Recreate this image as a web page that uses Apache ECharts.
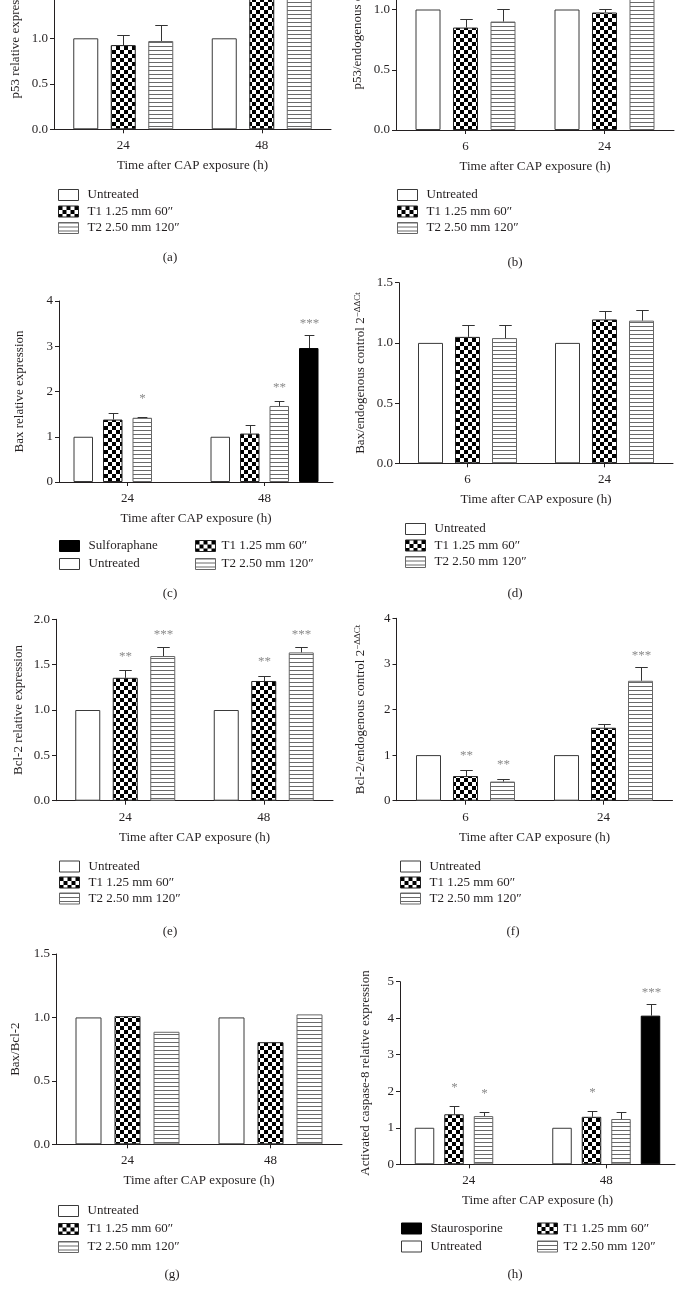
<!DOCTYPE html>
<html><head><meta charset="utf-8">
<script src="https://cdn.jsdelivr.net/npm/echarts@6/dist/echarts.min.js"></script>
<style>html,body{margin:0;padding:0;background:#fff;overflow:hidden;width:684px;height:1302px}#c{position:absolute;left:0;top:-150px;width:684px;height:1452px}</style>
</head><body><div id="c"></div>
<script>
// ---------- DATA ----------
const nameU = 'Untreated', nameT1 = 'T1 1.25 mm 60\u2033', nameT2 = 'T2 2.50 mm 120\u2033';
const nameSulfo = 'Sulforaphane', nameStauro = 'Staurosporine';
const xTitle = 'Time after CAP exposure (h)';

// (a) p53 relative expression
const catsA = ['24', '48'];
const untreatedA = [1, 1];
const t1A = [0.925, 1.55];
const t1ErrA = [0.115, 0.1];
const t2A = [0.97, 1.7];
const t2ErrA = [0.18, 0.1];

// (b) p53/endogenous control
const catsB = ['6', '24'];
const untreatedB = [1, 1];
const t1B = [0.85, 0.975];
const t1ErrB = [0.07, 0.03];
const t2B = [0.9, 1.1];
const t2ErrB = [0.105, 0.1];

// (c) Bax relative expression
const catsC = ['24', '48'];
const untreatedC = [1, 1];
const t1C = [1.38, 1.07];
const t1ErrC = [0.14, 0.19];
const t2C = [1.42, 1.68];
const t2ErrC = [0.01, 0.1];
const t2StarsC = [1, 2];
const sulfoC = [null, 2.96];
const sulfoErrC = [null, 0.28];
const sulfoStarsC = [0, 3];

// (d) Bax/endogenous control
const catsD = ['6', '24'];
const untreatedD = [1, 1];
const t1D = [1.05, 1.195];
const t1ErrD = [0.095, 0.07];
const t2D = [1.04, 1.185];
const t2ErrD = [0.11, 0.085];

// (e) Bcl-2 relative expression
const catsE = ['24', '48'];
const untreatedE = [1, 1];
const t1E = [1.355, 1.32];
const t1ErrE = [0.085, 0.06];
const t1StarsE = [2, 2];
const t2E = [1.595, 1.635];
const t2ErrE = [0.105, 0.065];
const t2StarsE = [3, 3];

// (f) Bcl-2/endogenous control
const catsF = ['6', '24'];
const untreatedF = [1, 1];
const t1F = [0.54, 1.6];
const t1ErrF = [0.14, 0.09];
const t1StarsF = [2, 0];
const t2F = [0.42, 2.63];
const t2ErrF = [0.06, 0.3];
const t2StarsF = [2, 3];

// (g) Bax/Bcl-2
const catsG = ['24', '48'];
const untreatedG = [1, 1];
const t1G = [1.01, 0.805];
const t2G = [0.887, 1.024];

// (h) Activated caspase-8
const catsH = ['24', '48'];
const untreatedH = [1, 1];
const t1H = [1.37, 1.3];
const t1ErrH = [0.23, 0.17];
const t1StarsH = [1, 1];
const t2H = [1.32, 1.24];
const t2ErrH = [0.11, 0.18];
const t2StarsH = [1, 0];
const stauroH = [null, 4.07];
const stauroErrH = [null, 0.31];
const stauroStarsH = [0, 3];

// ---------- STYLE ----------
const FONT = '"Liberation Serif", "Times New Roman", serif';
const INK = '#231f20';
const STAR_OFF = [0, 18.5, 14, 11.5];
const SHIFT = 150; // chart container starts above the page so the top panels are cropped

function makeChecker() {
  const c = document.createElement('canvas'); c.width = 8; c.height = 8;
  const g = c.getContext('2d');
  g.fillStyle = '#fff'; g.fillRect(0, 0, 8, 8);
  g.fillStyle = '#000'; g.fillRect(0, 0, 4, 4); g.fillRect(4, 4, 4, 4);
  return c;
}
function makeStripes() {
  const c = document.createElement('canvas'); c.width = 4; c.height = 4;
  const g = c.getContext('2d');
  g.fillStyle = '#fff'; g.fillRect(0, 0, 4, 4);
  g.fillStyle = '#6a6a6a'; g.fillRect(0, 0, 4, 1);
  return c;
}
const STYLES = {};
STYLES[nameU] = { color: '#ffffff', borderColor: '#3a3a3a', borderWidth: 1 };
STYLES[nameT1] = { color: { image: makeChecker(), repeat: 'repeat' }, borderColor: '#222', borderWidth: 1 };
STYLES[nameT2] = { color: { image: makeStripes(), repeat: 'repeat' }, borderColor: '#666', borderWidth: 1 };
STYLES[nameSulfo] = { color: '#000', borderColor: '#000', borderWidth: 1 };
STYLES[nameStauro] = { color: '#000', borderColor: '#000', borderWidth: 1 };

function ctrlName(prefix) {
  return '{b|' + prefix + '/endogenous control 2}{s|\u2212\u0394\u0394Ct}';
}

const panels = [
  { cats: catsA, yName: 'p53 relative expression', max: 2, interval: 0.5, dec: 1,
    grid: { left: 54, top: -52.7, width: 277, height: 182 }, nameGap: 32, bw: 25, gap: 12.5,
    series: [[nameU, untreatedA], [nameT1, t1A, t1ErrA], [nameT2, t2A, t2ErrA]],
    legends: [{ left: 58, top: 188.5, gap: 3.5, names: [nameU, nameT1, nameT2] }], letter: ['(a)', 170, 258] },
  { cats: catsB, yName: ctrlName('p53'), max: 2, interval: 0.5, dec: 1,
    grid: { left: 396, top: -111, width: 278, height: 241 }, nameGap: 32, bw: 25, gap: 12.5,
    series: [[nameU, untreatedB], [nameT1, t1B, t1ErrB], [nameT2, t2B, t2ErrB]],
    legends: [{ left: 397, top: 188.5, gap: 3.5, names: [nameU, nameT1, nameT2] }], letter: ['(b)', 515, 263] },
  { cats: catsC, yName: 'Bax relative expression', max: 4, interval: 1, dec: 0,
    grid: { left: 59, top: 301, width: 274, height: 181 }, nameGap: 33, bw: 19.5, gap: 10,
    series: [[nameU, untreatedC], [nameT1, t1C, t1ErrC], [nameT2, t2C, t2ErrC, t2StarsC], [nameSulfo, sulfoC, sulfoErrC, sulfoStarsC]],
    legends: [{ left: 59, top: 539.5, gap: 5, names: [nameSulfo, nameU] }, { left: 195, top: 539.5, gap: 5, names: [nameT1, nameT2], pad: 1 }],
    letter: ['(c)', 170, 594] },
  { cats: catsD, yName: ctrlName('Bax'), max: 1.5, interval: 0.5, dec: 1,
    grid: { left: 399, top: 282.7, width: 274, height: 180.6 }, nameGap: 32, bw: 25, gap: 12,
    series: [[nameU, untreatedD], [nameT1, t1D, t1ErrD], [nameT2, t2D, t2ErrD]],
    legends: [{ left: 405, top: 522.5, gap: 3.5, names: [nameU, nameT1, nameT2] }], letter: ['(d)', 515, 594] },
  { cats: catsE, yName: 'Bcl-2 relative expression', max: 2, interval: 0.5, dec: 1,
    grid: { left: 56, top: 619.3, width: 277, height: 181.4 }, nameGap: 31, bw: 25, gap: 12.5,
    series: [[nameU, untreatedE], [nameT1, t1E, t1ErrE, t1StarsE], [nameT2, t2E, t2ErrE, t2StarsE]],
    legends: [{ left: 59, top: 860, gap: 3, names: [nameU, nameT1, nameT2] }], letter: ['(e)', 170, 932] },
  { cats: catsF, yName: ctrlName('Bcl-2'), max: 4, interval: 1, dec: 0,
    grid: { left: 396.5, top: 618.3, width: 276, height: 182.4 }, nameGap: 29, bw: 25, gap: 12,
    series: [[nameU, untreatedF], [nameT1, t1F, t1ErrF, t1StarsF], [nameT2, t2F, t2ErrF, t2StarsF]],
    legends: [{ left: 400, top: 860, gap: 3, names: [nameU, nameT1, nameT2] }], letter: ['(f)', 513, 932] },
  { cats: catsG, yName: 'Bax/Bcl-2', max: 1.5, interval: 0.5, dec: 1,
    grid: { left: 56, top: 954, width: 286, height: 190.3 }, nameGap: 34, bw: 26, gap: 13,
    series: [[nameU, untreatedG], [nameT1, t1G], [nameT2, t2G]],
    legends: [{ left: 58, top: 1204.5, gap: 5, names: [nameU, nameT1, nameT2] }], letter: ['(g)', 172, 1275] },
  { cats: catsH, yName: 'Activated caspase-8 relative expression', max: 5, interval: 1, dec: 0,
    grid: { left: 400, top: 981.7, width: 275, height: 182.6 }, nameGap: 28, bw: 19.5, gap: 10,
    series: [[nameU, untreatedH], [nameT1, t1H, t1ErrH, t1StarsH], [nameT2, t2H, t2ErrH, t2StarsH], [nameStauro, stauroH, stauroErrH, stauroStarsH]],
    legends: [{ left: 401, top: 1222, gap: 5, names: [nameStauro, nameU] }, { left: 537, top: 1222, gap: 5, names: [nameT1, nameT2], pad: 1 }],
    letter: ['(h)', 515, 1275] }
];

function errRender(bw, gapPx, n) {
  return function (params, api) {
    const cat = api.value(0), v = api.value(1), top = api.value(2), k = api.value(3), s = api.value(4);
    const base = api.coord([cat, v]);
    const tp = api.coord([cat, top]);
    const off = (k - (n - 1) / 2) * (bw + gapPx);
    const x = Math.round(base[0] + off) + 0.5;
    const children = [];
    if (top > v) {
      const yc = Math.round(tp[1]) + 0.5;
      children.push({ type: 'line', shape: { x1: x, y1: base[1], x2: x, y2: yc }, style: { stroke: '#333', lineWidth: 1 } });
      children.push({ type: 'line', shape: { x1: x - bw / 4, y1: yc, x2: x + bw / 4, y2: yc }, style: { stroke: '#333', lineWidth: 1 } });
    }
    if (s > 0) {
      children.push({ type: 'text', x: x, y: tp[1] - STAR_OFF[s],
        style: { text: '*'.repeat(s), fontSize: 13, fontFamily: FONT, fill: '#8a8a8a', align: 'center', verticalAlign: 'middle', textAlign: 'center', textVerticalAlign: 'middle' } });
    }
    return { type: 'group', children: children };
  };
}

const option = { animation: false, grid: [], xAxis: [], yAxis: [], series: [], legend: [], graphic: [] };

panels.forEach(function (p, i) {
  option.grid.push({ containLabel: false, outerBoundsMode: 'none',
    left: p.grid.left, top: p.grid.top + SHIFT, width: p.grid.width, height: p.grid.height });
  option.xAxis.push({
    type: 'category', gridIndex: i, data: p.cats,
    name: xTitle, nameLocation: 'middle', nameGap: 30,
    nameTextStyle: { fontFamily: FONT, fontSize: 13, color: INK },
    axisLine: { lineStyle: { color: INK, width: 1 } },
    axisTick: { show: true, alignWithLabel: true, length: 4, lineStyle: { color: INK } },
    axisLabel: { fontFamily: FONT, fontSize: 13, color: INK, margin: 10 },
    splitLine: { show: false }
  });
  option.yAxis.push({
    type: 'value', gridIndex: i, min: 0, max: p.max, interval: p.interval,
    name: p.yName, nameLocation: 'middle', nameGap: p.nameGap,
    nameTextStyle: { fontFamily: FONT, fontSize: 13, color: INK,
      rich: { b: { fontFamily: FONT, fontSize: 13, color: INK, verticalAlign: 'bottom' },
              s: { fontFamily: FONT, fontSize: 9, color: INK, verticalAlign: 'bottom', padding: [0, 0, 5, 0] } } },
    axisLine: { show: true, lineStyle: { color: INK, width: 1 } },
    axisTick: { show: true, length: 4, lineStyle: { color: INK } },
    axisLabel: { fontFamily: FONT, fontSize: 13, color: INK, margin: 6,
      formatter: (function (d) { return function (v) { return v.toFixed(d); }; })(p.dec) },
    splitLine: { show: false }
  });
  const n = p.series.length;
  const errData = [];
  p.series.forEach(function (s, k) {
    option.series.push({
      type: 'bar', name: s[0], xAxisIndex: i, yAxisIndex: i, data: s[1],
      barWidth: p.bw, barGap: (p.gap / p.bw * 100) + '%',
      itemStyle: STYLES[s[0]], silent: true
    });
    s[1].forEach(function (v, c) {
      if (v == null) return;
      const err = s[2] ? s[2][c] : null;
      const st = s[3] ? s[3][c] : 0;
      if ((err != null && err > 0) || st > 0) errData.push([c, v, v + (err || 0), k, st || 0]);
    });
  });
  if (errData.length) {
    option.series.push({
      type: 'custom', xAxisIndex: i, yAxisIndex: i, z: 5, silent: true, clip: false,
      renderItem: errRender(p.bw, p.gap, n), encode: { x: 0, y: [1, 2] }, data: errData
    });
  }
  p.legends.forEach(function (L) {
    option.legend.push({
      orient: 'vertical', left: L.left, top: L.top + SHIFT, itemGap: L.gap, padding: 0,
      itemWidth: 20, itemHeight: 11, icon: 'rect', selectedMode: false,
      data: L.names,
      itemStyle: { borderWidth: 1 },
      textStyle: { fontFamily: FONT, fontSize: 13, color: INK, padding: [0, 0, 0, L.pad != null ? L.pad : 4] }
    });
  });
  option.graphic.push({
    type: 'text', x: p.letter[1], y: p.letter[2] + SHIFT,
    style: { text: p.letter[0], fontSize: 13, fontFamily: FONT, fill: INK, align: 'center', verticalAlign: 'middle', textAlign: 'center', textVerticalAlign: 'middle' }
  });
});

const chart = echarts.init(document.getElementById('c'), null, { renderer: 'canvas' });
chart.setOption(option);
</script>
</body></html>
